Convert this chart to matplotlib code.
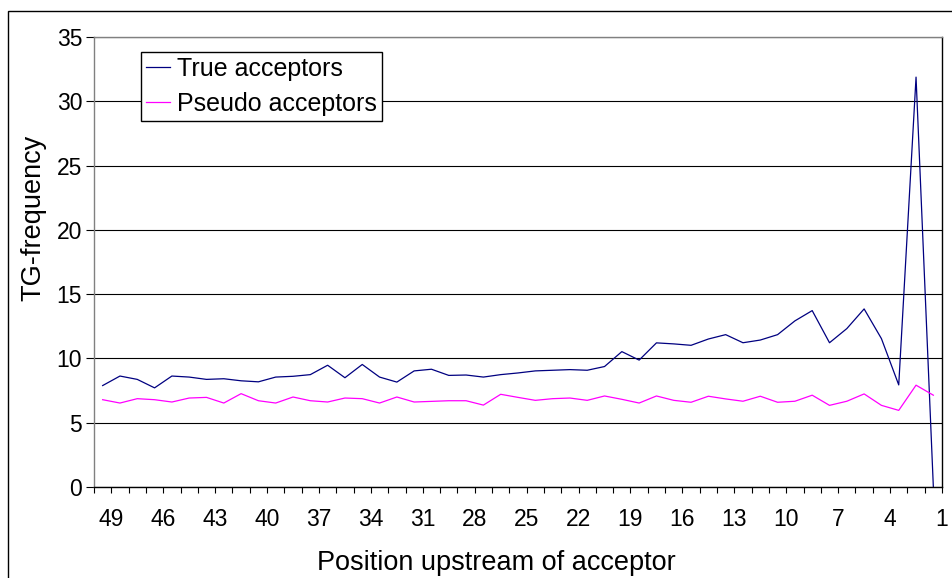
import matplotlib.pyplot as plt
import matplotlib.patches as patches
import numpy as np

plt.rcParams['font.family'] = ['Liberation Sans', 'DejaVu Sans']

# positions upstream of the acceptor, left to right
positions = list(range(49, 0, -1))

true_acc = [7.89, 8.63, 8.37, 7.71, 8.63, 8.55, 8.37, 8.42, 8.26, 8.18,
            8.55, 8.61, 8.74, 9.47, 8.50, 9.53, 8.55, 8.16, 9.03, 9.16,
            8.68, 8.71, 8.55, 8.74, 8.87, 9.03, 9.08, 9.13, 9.08, 9.37,
            10.53, 9.87, 11.21, 11.13, 11.02, 11.51, 11.85, 11.22, 11.43, 11.85,
            12.92, 13.72, 11.22, 12.32, 13.85, 11.54, 7.94, 31.88, 0.0]

pseudo_acc = [6.79, 6.53, 6.87, 6.79, 6.61, 6.92, 6.97, 6.53, 7.26, 6.71,
              6.53, 7.00, 6.71, 6.61, 6.92, 6.87, 6.53, 7.00, 6.61, 6.66,
              6.71, 6.71, 6.37, 7.21, 6.97, 6.74, 6.87, 6.92, 6.74, 7.08,
              6.82, 6.53, 7.08, 6.74, 6.59, 7.06, 6.85, 6.67, 7.06, 6.59,
              6.67, 7.14, 6.35, 6.67, 7.24, 6.35, 5.96, 7.92, 7.14]

fs_tick = 16.5
fs_leg = 18
fs_title = 19.5

fig = plt.figure(figsize=(9.53, 5.78), dpi=100)
ax = fig.add_axes([94 / 953, 91 / 578, 848 / 953, 450 / 578])

x = np.arange(len(positions))
ax.plot(x, true_acc, color='#000080', lw=0.9, label='True acceptors')
ax.plot(x, pseudo_acc, color='#FF00FF', lw=0.9, label='Pseudo acceptors')

ax.set_xlim(-0.5, len(positions) - 0.5)
ax.set_ylim(0, 35)
ax.set_yticks(range(0, 36, 5))
ax.yaxis.grid(True, color='black', lw=0.8)
ax.set_axisbelow(True)

# ticks between categories, labels at the right edge of every third one
bounds = np.arange(-0.5, len(positions), 1.0)
labels = [''] + [str(p) if p % 3 == 1 else '' for p in positions]
ax.set_xticks(bounds)
ax.set_xticklabels(labels)

ax.tick_params(axis='x', direction='out', length=4.5, width=0.8, pad=10.5, labelsize=fs_tick)
ax.tick_params(axis='y', direction='out', length=6, width=0.8, pad=2.5, labelsize=fs_tick)

ax.spines['left'].set_color('#808080')
ax.spines['top'].set_color('#808080')
ax.spines['right'].set_color('black')
ax.spines['bottom'].set_color('black')
for s in ax.spines.values():
    s.set_linewidth(1.0)

fig.text(496 / 953, 8 / 578, 'Position upstream of acceptor', fontsize=fs_title,
         ha='center', va='baseline')
fig.text(33 / 953, 1 - 218 / 578, 'TG-frequency', fontsize=fs_title,
         rotation=90, ha='center', va='center')

leg = ax.legend(loc='upper left', bbox_to_anchor=(141 / 953, 1 - 52 / 578),
                bbox_transform=fig.transFigure, fontsize=fs_leg, frameon=True,
                fancybox=False, framealpha=1, edgecolor='black', borderaxespad=0,
                handlelength=0.95, handletextpad=0.3, borderpad=0.2,
                labelspacing=0.42)
leg.get_frame().set_linewidth(1.0)

# chart area border
fig.patches.append(patches.Rectangle((8 / 953, -0.1), 1.2, 0.1 + 1 - 11 / 578,
                                     transform=fig.transFigure, fill=False,
                                     edgecolor='black', lw=1.0))

fig.savefig('out.png', dpi=100)
